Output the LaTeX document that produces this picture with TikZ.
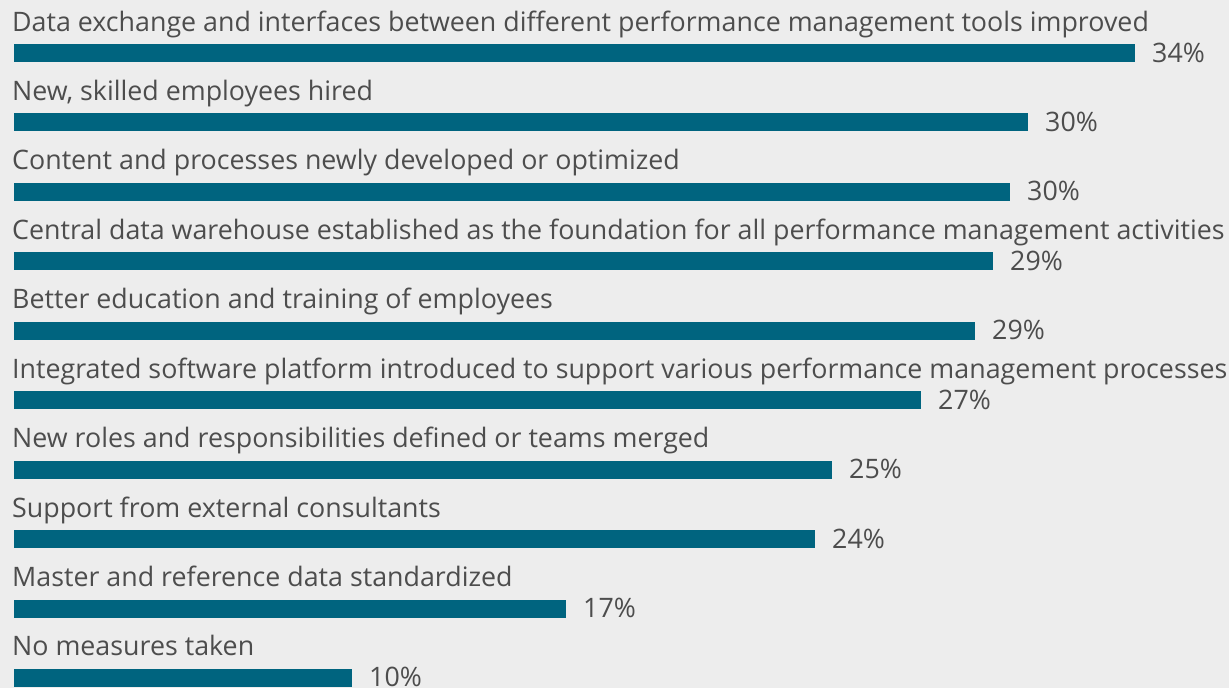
\documentclass[tikz,border=0pt]{standalone}
\usepackage{fontspec}
\setmainfont{Open Sans}
\definecolor{bgc}{HTML}{EDEDED}
\definecolor{barc}{HTML}{00647F}
\definecolor{txtc}{HTML}{4D4D4D}
\begin{document}
\begin{tikzpicture}[x=1pt,y=-1pt,
  lab/.style={anchor=base west,inner sep=0pt,text=txtc,font=\fontsize{26.8}{32}\selectfont},
  pct/.style={anchor=base west,inner sep=0pt,text=txtc,font=\fontsize{26.8}{32}\selectfont},
  barbox/.style={fill=barc,draw=none}]
\fill[bgc] (0,0) rectangle (1229,688);
\useasboundingbox (0,0) rectangle (1229,688);
\foreach \i/\t/\e/\p in {
 0/{Data exchange and interfaces between different performance management tools improved}/1135/34\%,
 1/{New, skilled employees hired}/1028/30\%,
 2/{Content and processes newly developed or optimized}/1010/30\%,
 3/{Central data warehouse established as the foundation for all performance management activities}/993/29\%,
 4/{Better education and training of employees}/975/29\%,
 5/{Integrated software platform introduced to support various performance management processes}/921/27\%,
 6/{New roles and responsibilities defined or teams merged}/832/25\%,
 7/{Support from external consultants}/815/24\%,
 8/{Master and reference data standardized}/566/17\%,
 9/{No measures taken}/352/10\%}{
  \pgfmathsetmacro{\yt}{44+\i*69.44}
  \node[lab] (l\i) at (12,\yt-13) {\t};
  \path[barbox] (14,\yt) rectangle (\e,\yt+18);
  \coordinate (b\i) at (\e,\yt+18);
  \node[pct] (p\i) at ([xshift=17pt]b\i) {\p};
}
\end{tikzpicture}
\end{document}
